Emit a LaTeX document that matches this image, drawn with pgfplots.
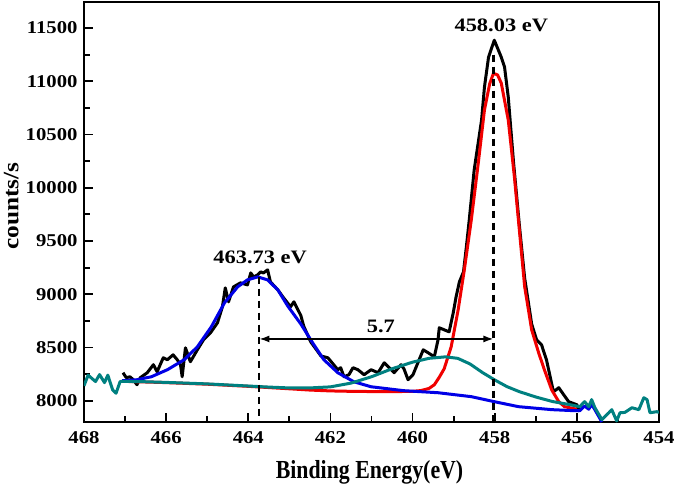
\documentclass[border=0pt]{standalone}
\usepackage{fontspec}
\setmainfont{Liberation Serif}
\newfontfamily\tickfont{Liberation Serif}[FakeStretch=1.15]
\newfontfamily\xlabfont{Liberation Serif}[FakeStretch=0.84]
\newfontfamily\ylabfont{Liberation Serif}[FakeStretch=1.15]
\newfontfamily\annfont{Liberation Serif}[FakeStretch=1.18]
\usepackage{pgfplots}
\pgfplotsset{compat=1.18}
\usetikzlibrary{calc,arrows.meta}
\definecolor{cblue}{RGB}{0,0,230}
\definecolor{cred}{RGB}{240,0,0}
\definecolor{cteal}{RGB}{0,128,128}
\begin{document}
\begin{tikzpicture}
\begin{axis}[name=ax, scale only axis, width=575pt, height=420pt,
  x dir=reverse, xmin=454, xmax=468, ymin=7800, ymax=11745,
  xtick={454,456,...,468}, ytick={8000,8500,...,11500},
  minor x tick num=1, minor y tick num=1,
  xtick pos=bottom, ytick pos=left, tick align=inside,
  major tick length=9pt, minor tick length=6pt,
  axis line style={line width=2.2pt},
  tick style={line width=1.8pt, black},
  scaled ticks=false,
  /pgf/number format/assume math mode=true,
  /pgf/number format/1000 sep={},
  ticklabel style={font=\tickfont\bfseries\fontsize{18}{20}\selectfont},
  xticklabel style={yshift=-6pt},
  yticklabel style={xshift=-3pt},
  every axis plot/.append style={line width=3pt, line join=round},
]
% raw data
\addplot[black] coordinates {
(467.05,8263) (466.97,8216) (466.88,8225) (466.80,8197) (466.71,8150) (466.63,8216)
(466.46,8263) (466.31,8338) (466.22,8272) (466.07,8403) (465.97,8385) (465.83,8431)
(465.73,8385) (465.65,8338) (465.61,8225) (465.53,8497) (465.41,8366) (465.24,8478)
(465.09,8572) (464.92,8638) (464.75,8732) (464.63,8882) (464.56,9060) (464.48,8929)
(464.36,9069) (464.19,9107) (464.02,9088) (463.94,9200) (463.87,9163) (463.77,9182)
(463.70,9210) (463.63,9200) (463.53,9229) (463.46,9116) (463.28,9041) (463.14,8966)
(462.97,8882) (462.89,8929) (462.72,8800) (462.65,8700) (462.48,8553) (462.23,8420)
(462.06,8403) (461.92,8338) (461.82,8291) (461.75,8310) (461.67,8225) (461.55,8244)
(461.45,8310) (461.33,8291) (461.18,8244) (461.01,8291) (460.84,8263) (460.69,8356)
(460.57,8310) (460.45,8263) (460.28,8338) (460.21,8300) (460.11,8197) (459.99,8244)
(459.86,8366) (459.74,8478) (459.62,8450) (459.47,8413) (459.38,8572) (459.35,8685)
(459.23,8666) (459.11,8647) (459.01,8825) (458.94,8976) (458.86,9116) (458.76,9210)
(458.69,9445) (458.62,9698) (458.50,10167) (458.32,10636) (458.25,10945) (458.15,11227)
(458.01,11386) (457.84,11227) (457.76,11133) (457.67,10852) (457.54,10232) (457.40,9650)
(457.27,9150) (457.10,8720) (456.98,8572) (456.86,8525) (456.74,8385) (456.57,8084)
(456.44,8122) (456.32,8056) (456.20,7991) (456.00,7962) (455.93,7897)
};
% Ti 2p3/2 component
\addplot[cred] coordinates {
(467.05,8182) (466.0,8170) (465.0,8155) (464.0,8135) (463.0,8112) (462.5,8100)
(462.0,8092) (461.5,8088) (461.0,8086) (460.5,8085) (460.0,8088) (459.8,8095)
(459.6,8115) (459.47,8150) (459.35,8220) (459.23,8300) (459.06,8506) (458.89,8854)
(458.74,9229) (458.57,9698) (458.40,10232) (458.25,10730) (458.12,10980) (458.03,11075)
(457.93,11060) (457.84,10983) (457.67,10636) (457.52,10101) (457.40,9604) (457.27,9069)
(457.10,8666) (456.93,8450) (456.79,8290) (456.61,8100) (456.44,7991) (456.30,7944)
(456.00,7920)
};
% Ti 2p1/2 component
\addplot[cblue] coordinates {
(467.07,8188) (466.71,8197) (466.36,8225) (465.97,8291) (465.56,8385) (465.24,8506)
(464.90,8694) (464.58,8919) (464.26,9069) (464.02,9135) (463.77,9163) (463.53,9135)
(463.28,9041) (463.04,8890) (462.72,8720) (462.41,8530) (462.16,8385) (461.82,8263)
(461.43,8178) (461.01,8131) (460.21,8094) (459.38,8075) (458.57,8038) (458.01,7991)
(457.42,7944) (456.61,7916) (456.05,7906) (455.93,7906) (455.81,7950) (455.71,7920)
(455.64,7965) (455.56,7915) (455.39,7800)
};
% background / third component
\addplot[cteal] coordinates {
(468.00,8140) (467.90,8240) (467.72,8180) (467.62,8245) (467.50,8170) (467.42,8240)
(467.30,8100) (467.22,8070) (467.12,8180) (467.05,8182)
(466.5,8178) (466.0,8172) (465.5,8165) (465.0,8158) (464.5,8148) (464.0,8138)
(463.5,8128) (463.0,8120) (462.5,8120) (462.0,8130) (461.5,8165) (461.0,8225)
(460.5,8300) (460.0,8362) (459.6,8398) (459.2,8412) (458.9,8398) (458.6,8345)
(458.3,8265) (458.0,8195) (457.7,8132) (457.4,8085) (457.0,8035)
(456.6,7993) (456.2,7965) (455.93,7944)
(455.81,7991) (455.71,7944) (455.64,8010) (455.56,7934) (455.39,7822) (455.22,7887)
(455.15,7916) (455.03,7810) (454.95,7887) (454.83,7890) (454.66,7934) (454.49,7916)
(454.37,8028) (454.29,8010) (454.22,7887) (454.05,7897) (454.00,7890)
};
% annotations
\draw[black, line width=2.2pt, dash pattern=on 7pt off 5pt] (axis cs:458.03,11250) -- (axis cs:458.03,7800);
\draw[black, line width=2.2pt, dash pattern=on 7pt off 5pt] (axis cs:463.73,9165) -- (axis cs:463.73,7800);
\draw[black, line width=1.6pt, {Latex[length=10pt,width=7pt]}-{Latex[length=10pt,width=7pt]}] (axis cs:463.73,8580) -- (axis cs:458.03,8580);
\node[anchor=base, font=\annfont\bfseries\fontsize{19}{21}\selectfont] at (axis cs:457.84,11471) {458.03 eV};
\node[anchor=base, font=\annfont\bfseries\fontsize{19}{21}\selectfont] at (axis cs:463.71,9285) {463.73 eV};
\node[anchor=base, font=\annfont\bfseries\fontsize{19}{21}\selectfont] at (axis cs:460.77,8638) {5.7};
\end{axis}
\node[anchor=base, font=\xlabfont\bfseries\fontsize{26}{28}\selectfont] at ($(ax.south west)+(285.5pt,-56pt)$) {Binding Energy(eV)};
\node[rotate=90, anchor=base, font=\ylabfont\bfseries\fontsize{22}{24}\selectfont] at ($(ax.south west)+(-65.5pt,216pt)$) {counts/s};
\pgfresetboundingbox
\path[use as bounding box] ($(ax.south west)+(-84pt,-63pt)$) rectangle ($(ax.south west)+(591pt,422pt)$);
\end{tikzpicture}
\end{document}
